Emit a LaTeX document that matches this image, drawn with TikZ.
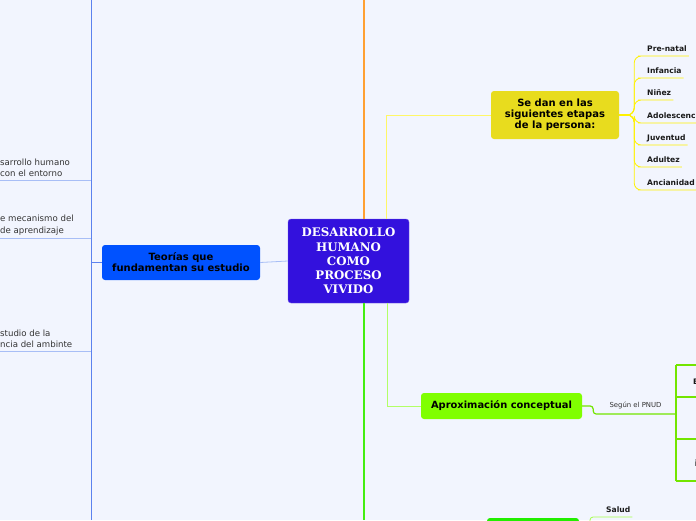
\documentclass[tikz,border=0pt]{standalone}
\usepackage{fontspec}
\setmainfont{DejaVu Sans}
\newfontfamily\rootfont{DejaVu Serif}
\usetikzlibrary{positioning}
\definecolor{bgpale}{HTML}{F2F5FE}
\definecolor{rootviolet}{HTML}{3311DD}
\definecolor{teoblue}{HTML}{0052FF}
\definecolor{etapyellow}{HTML}{E8DC1E}
\definecolor{aproxgreen}{HTML}{80FF00}
\definecolor{botgreen}{HTML}{22EE00}
\definecolor{orangeline}{HTML}{FFA033}
\definecolor{greenline}{HTML}{44EE11}
\definecolor{spineblue}{HTML}{5C82EE}
\definecolor{leafblue}{HTML}{A8BEF6}
\definecolor{textdark}{HTML}{1A1A1A}
\definecolor{textgrey}{HTML}{333333}

\begin{document}
\begin{tikzpicture}[x=1pt, y=-1pt,
  topic/.style={rounded corners=3pt, inner sep=0pt, align=center, text=black,
    font=\bfseries\fontsize{10}{11}\selectfont},
  stage/.style={inner sep=2pt, text height=6pt, text depth=2.5pt, text=textdark,
    font=\bfseries\fontsize{7.6}{8}\selectfont},
  leaf/.style={inner sep=1.5pt, align=left, text=textgrey,
    font=\fontsize{8.6}{11.5}\selectfont}
]
  \useasboundingbox (0,0) rectangle (696,520);
  \clip (0,0) rectangle (696,520);
  \fill[bgpale] (0,0) rectangle (696,520);

  % central topic
  \node[rounded corners=3pt, fill=rootviolet, draw=rootviolet!70!white, minimum width=121, minimum height=84,
    align=center, text=white, font=\rootfont\bfseries\fontsize{11.8}{14.2}\selectfont] (root) at (348.5,261)
    {DESARROLLO\\HUMANO\\COMO\\PROCESO\\VIVIDO};

  % main branches
  \node[topic, fill=teoblue, minimum width=158, minimum height=35] (teorias) at (181,262.5)
    {Teorías que\\fundamentan su estudio};
  \node[topic, fill=etapyellow, minimum width=128, minimum height=48] (etapas) at (555,115)
    {Se dan en las\\siguientes etapas\\de la persona:};
  \node[topic, fill=aproxgreen, minimum width=161, minimum height=26, font=\bfseries\fontsize{9.9}{11}\selectfont] (aprox) at (501.5,406)
    {Aproximación conceptual};
  \node[topic, fill=botgreen, minimum width=92, minimum height=26] (salud-topic) at (533,531) {};

  \coordinate (topend) at (364,0);
  \coordinate (botend) at (364,520);
  \draw[orangeline, line width=1.2pt] (root.north -| topend) -- (topend);
  \draw[greenline, line width=1.2pt] (root.south -| botend) -- (botend);
  \draw[yellow!60!white, line width=0.8pt] ([xshift=37.5]root.north) |- (etapas.west);
  \draw[aproxgreen!60!white, line width=0.8pt] ([xshift=38.5]root.south) |- (aprox.west);
  \draw[leafblue, line width=0.8pt] (root.west) -- (teorias.east);

  % left side
  \coordinate (spinetop) at (91,0);
  \coordinate (spinebot) at (91,520);
  \draw[spineblue, line width=1pt] (spinetop) -- (spinebot);
  \draw[spineblue, line width=1pt] (teorias.west) -- (teorias.west -| spinetop);
  \node[leaf, anchor=south west, inner ysep=3pt] (dh) at (-1.5,180) {sarrollo humano\\con el entorno};
  \node[leaf, anchor=south west, inner ysep=3pt] (ma) at (-1.5,238) {e mecanismo del\\ de aprendizaje};
  \node[leaf, anchor=south west, inner ysep=3pt] (am) at (-1.5,351) {studio de la\\ncia del ambinte};
  \foreach \l in {dh, ma, am}
    \draw[leafblue, line width=1pt] (\l.south west) -- (\l.south west -| spinetop);

  % stages
  \foreach \y/\n/\t in {56/pre/Pre-natal, 78/inf/Infancia, 100/nin/Niñez, 123/ado/Adolescencia,
                        145/juv/Juventud, 167/adu/Adultez, 190/anc/Ancianidad}{
    \node[stage, anchor=south west] (\n) at (645,\y) {\t};
    \draw[yellow, line width=0.8pt, rounded corners=7pt] (etapas.east) -- ++(15,0) |- (\n.south west) -- (\n.south east);
  }
  \draw[yellow, line width=2pt] (etapas.east) -- ++(12,0);

  % PNUD
  \coordinate (bartop) at (676,365);
  \coordinate (barbot) at (676,481);
  \node[font=\fontsize{6.9}{8}\selectfont, text=textgrey] (pnud) at (635.5,405.5) {Según el PNUD};
  \draw[aproxgreen!90!black, line width=1.2pt, rounded corners=3pt] (aprox.east) -- ++(11,0) |- (676,414);
  \draw[aproxgreen!90!black, line width=1.5pt] (bartop) -- (barbot);
  \foreach \y in {365, 397, 439, 481}
    \draw[aproxgreen!90!black, line width=1.2pt] (676,\y) -- (696,\y);
  \node[stage, anchor=base west, inner sep=0pt] (e-frag) at (693,384) {E};
  \node[leaf, anchor=base west, inner sep=0pt] (i-frag) at (694.5,466) {i};

  % salud
  \node[stage, anchor=south west] (salud) at (604,517) {Salud};
  \draw[aproxgreen!70!white, line width=0.8pt, rounded corners=3pt] (salud-topic.east) -- (590,531) |- (salud.south west) -- (salud.south east);
\end{tikzpicture}
\end{document}
